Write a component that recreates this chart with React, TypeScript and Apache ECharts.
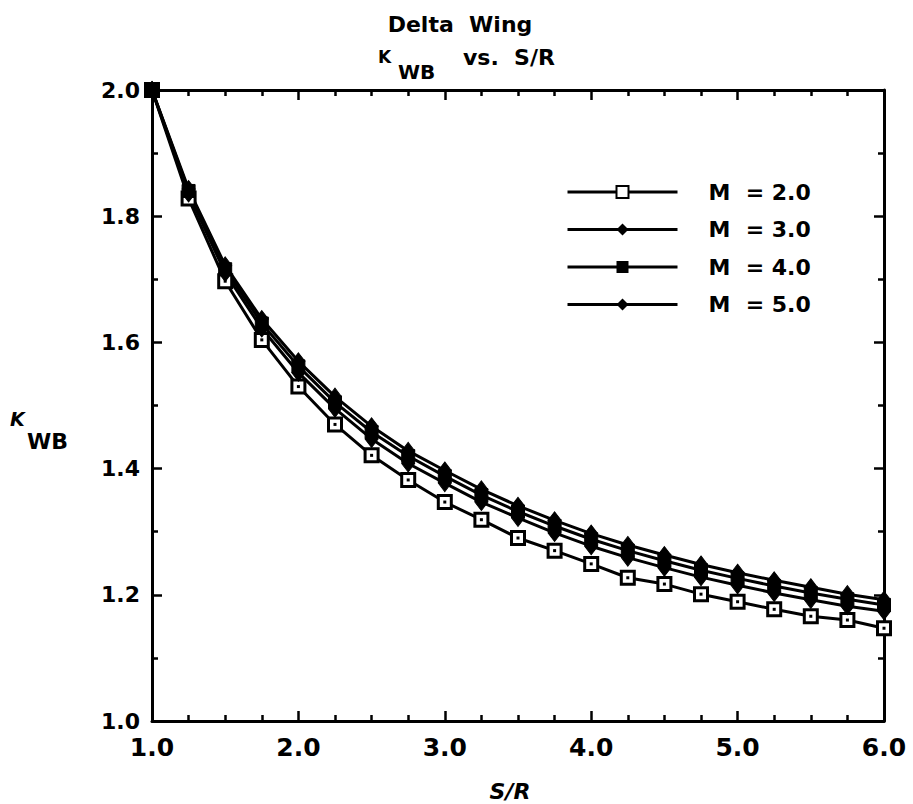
import React, { useEffect, useRef } from "react";
import * as echarts from "echarts";

const sr = [1.0, 1.25, 1.5, 1.75, 2.0, 2.25, 2.5, 2.75, 3.0, 3.25, 3.5, 3.75, 4.0, 4.25, 4.5, 4.75, 5.0, 5.25, 5.5, 5.75, 6.0];
const kM2 = [2.0, 1.828, 1.697, 1.604, 1.530, 1.470, 1.421, 1.382, 1.347, 1.319, 1.290, 1.270, 1.249, 1.227, 1.217, 1.201, 1.189, 1.177, 1.166, 1.160, 1.147];
const kM3 = [2.0, 1.836, 1.710, 1.622, 1.552, 1.495, 1.447, 1.408, 1.377, 1.347, 1.322, 1.298, 1.277, 1.259, 1.243, 1.228, 1.215, 1.203, 1.192, 1.182, 1.174];
const kM4 = [2.0, 1.840, 1.716, 1.630, 1.562, 1.505, 1.458, 1.420, 1.388, 1.358, 1.332, 1.309, 1.288, 1.270, 1.254, 1.239, 1.226, 1.214, 1.203, 1.193, 1.184];
const kM5 = [2.0, 1.843, 1.722, 1.637, 1.570, 1.514, 1.467, 1.428, 1.397, 1.367, 1.341, 1.318, 1.297, 1.279, 1.263, 1.248, 1.235, 1.223, 1.212, 1.201, 1.192];
const seriesNames = ["M  = 2.0", "M  = 3.0", "M  = 4.0", "M  = 5.0"];

const FONT = "DejaVu Sans";

function pairs(ys: number[]) {
  return sr.map((x, i) => [x, ys[i]]);
}

export default function App() {
  const ref = useRef<HTMLDivElement>(null);
  useEffect(() => {
    if (!ref.current) return;
    const chart = echarts.init(ref.current, null, { renderer: "svg" });
    const axisLine = { show: true, lineStyle: { color: "#000", width: 3 } };
    const tickX = { show: true, inside: true, length: 10, lineStyle: { color: "#000", width: 2.5 } };
    const minorX = { show: true, splitNumber: 4, length: 6, lineStyle: { color: "#000", width: 2.5 } };
    const minorY = { show: true, splitNumber: 2, length: 6, lineStyle: { color: "#000", width: 2.5 } };
    const base = {
      type: "line" as const,
      lineStyle: { color: "#000", width: 3 },
      z: 3,
    };
    const option: any = {
      animation: false,
      backgroundColor: "#fff",
      grid: { left: 152, right: 29, top: 90, bottom: 83, containLabel: false },
      legend: {
        orient: "vertical",
        left: 566,
        top: 180,
        padding: 0,
        itemWidth: 110,
        itemHeight: 15,
        itemGap: 13.5,
        data: seriesNames,
        lineStyle: { color: "#000", width: 3 },
        textStyle: {
          fontFamily: FONT,
          fontWeight: "bold",
          fontSize: 22,
          lineHeight: 24,
          color: "#000",
          padding: [0, 0, 0, 26],
        },
      },
      xAxis: [
        {
          type: "value",
          min: 1,
          max: 6,
          interval: 1,
          position: "bottom",
          axisLine,
          axisTick: tickX,
          minorTick: minorX,
          splitLine: { show: false },
          axisLabel: {
            margin: 14,
            fontFamily: FONT,
            fontWeight: "bold",
            fontSize: 25,
            color: "#000",
            formatter: (v: number) => v.toFixed(1),
          },
        },
        {
          type: "value",
          min: 1,
          max: 6,
          interval: 1,
          position: "top",
          axisLine,
          axisTick: tickX,
          minorTick: minorX,
          splitLine: { show: false },
          axisLabel: { show: false },
        },
      ],
      yAxis: [
        {
          type: "value",
          min: 1,
          max: 2,
          interval: 0.2,
          position: "left",
          axisLine,
          axisTick: tickX,
          minorTick: minorY,
          splitLine: { show: false },
          axisLabel: {
            margin: 12,
            fontFamily: FONT,
            fontWeight: "bold",
            fontSize: 22,
            color: "#000",
            formatter: (v: number) => v.toFixed(1),
          },
        },
        {
          type: "value",
          min: 1,
          max: 2,
          interval: 0.2,
          position: "right",
          axisLine,
          axisTick: tickX,
          minorTick: minorY,
          splitLine: { show: false },
          axisLabel: { show: false },
        },
      ],
      series: [
        {
          ...base,
          name: seriesNames[0],
          data: pairs(kM2),
          symbol: "rect",
          symbolSize: 13,
          itemStyle: { color: "#fff", borderColor: "#000", borderWidth: 3 },
        },
        {
          type: "line",
          name: "dots",
          data: pairs(kM2),
          symbol: "rect",
          symbolSize: 3,
          lineStyle: { width: 0, opacity: 0 },
          itemStyle: { color: "#000" },
          silent: true,
          z: 4,
        },
        {
          ...base,
          name: seriesNames[1],
          data: pairs(kM3),
          symbol: "diamond",
          symbolSize: [13, 17],
          itemStyle: { color: "#000", borderColor: "#000" },
        },
        {
          ...base,
          name: seriesNames[2],
          data: pairs(kM4),
          symbol: "rect",
          symbolSize: 13,
          itemStyle: { color: "#000", borderColor: "#000" },
        },
        {
          ...base,
          name: seriesNames[3],
          data: pairs(kM5),
          symbol: "diamond",
          symbolSize: [13, 17],
          itemStyle: { color: "#000", borderColor: "#000" },
        },
      ],
      graphic: [
        {
          type: "text",
          x: 460,
          y: 24,
          style: {
            text: "Delta  Wing",
            align: "center",
            verticalAlign: "middle",
            font: `bold 22px "${FONT}"`,
            fill: "#000",
          },
        },
        {
          type: "text",
          x: 378,
          y: 57,
          style: { text: "K", align: "left", verticalAlign: "middle", font: `bold 17px "${FONT}"`, fill: "#000" },
        },
        {
          type: "text",
          x: 398,
          y: 72,
          style: { text: "WB", align: "left", verticalAlign: "middle", font: `bold 20px "${FONT}"`, fill: "#000" },
        },
        {
          type: "text",
          x: 463,
          y: 57,
          style: { text: "vs.  S/R", align: "left", verticalAlign: "middle", font: `bold 22px "${FONT}"`, fill: "#000" },
        },
        {
          type: "text",
          x: 10,
          y: 419,
          style: { text: "K", align: "left", verticalAlign: "middle", font: `italic bold 19px "${FONT}"`, fill: "#000" },
        },
        {
          type: "text",
          x: 27,
          y: 441,
          style: { text: "WB", align: "left", verticalAlign: "middle", font: `bold 22px "${FONT}"`, fill: "#000" },
        },
        {
          type: "text",
          x: 510,
          y: 791,
          style: { text: "S/R", align: "center", verticalAlign: "middle", font: `italic bold 22px "${FONT}"`, fill: "#000" },
        },
      ],
    };
    chart.setOption(option);
    return () => chart.dispose();
  }, []);
  return (
    <div
      ref={ref}
      style={{ position: "absolute", left: 0, top: 0, width: 913, height: 804, background: "#fff" }}
    />
  );
}
